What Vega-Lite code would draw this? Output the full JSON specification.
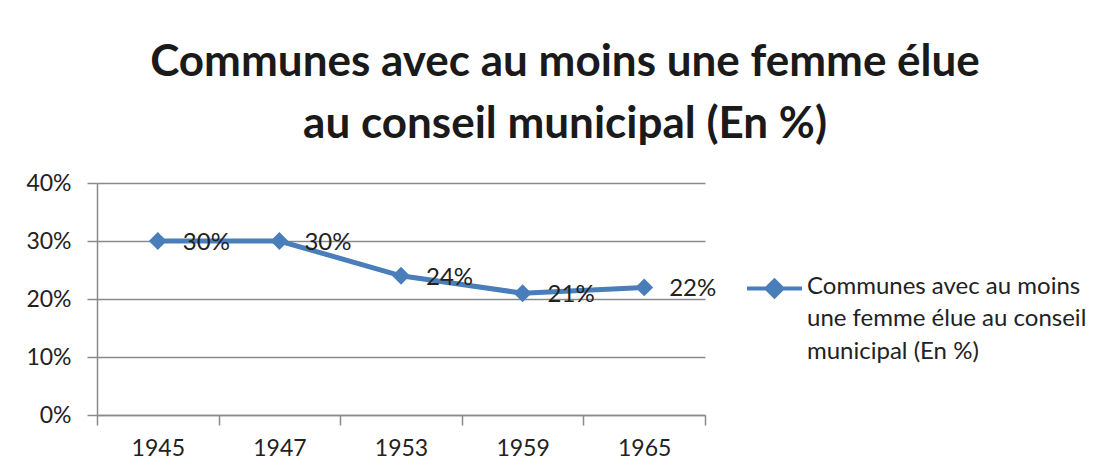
{
  "$schema": "https://vega.github.io/schema/vega-lite/v6.json",
  "width": 608,
  "height": 232,
  "autosize": {"type": "none"},
  "padding": {"left": 97, "top": 183, "right": 400, "bottom": 60},
  "background": "white",
  "config": {"font": "Lato", "view": {"stroke": null}, "text": {"font": "Lato"}},
  "title": {
    "text": ["Communes avec au moins une femme élue", "au conseil municipal (En %)"],
    "fontSize": 44,
    "fontWeight": "bold",
    "color": "#1a1a1a",
    "lineHeight": 62,
    "anchor": "middle",
    "dx": 164,
    "offset": 25,
    "font": "Lato"
  },
  "data": {
    "values": [
      {"year": "1945", "value": 0.30, "series": "Communes avec au moins une femme élue au conseil municipal (En %)"},
      {"year": "1947", "value": 0.30, "series": "Communes avec au moins une femme élue au conseil municipal (En %)"},
      {"year": "1953", "value": 0.24, "series": "Communes avec au moins une femme élue au conseil municipal (En %)"},
      {"year": "1959", "value": 0.21, "series": "Communes avec au moins une femme élue au conseil municipal (En %)"},
      {"year": "1965", "value": 0.22, "series": "Communes avec au moins une femme élue au conseil municipal (En %)"}
    ]
  },
  "encoding": {
    "x": {
      "field": "year",
      "type": "ordinal",
      "scale": {"paddingInner": 0, "paddingOuter": 0},
      "axis": {
        "title": null,
        "labelAngle": 0,
        "labelFontSize": 23,
        "labelColor": "#222",
        "labelPadding": 12,
        "tickBand": "extent",
        "tickSize": 10,
        "tickColor": "#8a8a8a",
        "tickWidth": 1.5,
        "domainColor": "#8a8a8a",
        "domainWidth": 1.5,
        "grid": false
      }
    },
    "y": {
      "field": "value",
      "type": "quantitative",
      "scale": {"domain": [0, 0.4], "nice": false},
      "axis": {
        "title": null,
        "format": ".0%",
        "values": [0, 0.1, 0.2, 0.3, 0.4],
        "labelFontSize": 23,
        "labelColor": "#222",
        "labelPadding": 16,
        "tickSize": 10,
        "tickColor": "#8a8a8a",
        "tickWidth": 1.5,
        "domainColor": "#8a8a8a",
        "domainWidth": 1.5,
        "grid": true,
        "gridColor": "#8a8a8a",
        "gridWidth": 1.5
      }
    }
  },
  "layer": [
    {
      "mark": {"type": "line", "strokeWidth": 5, "color": "#4A7EBB"},
      "encoding": {
        "color": {
          "field": "series",
          "type": "nominal",
          "scale": {"range": ["#4A7EBB"]},
          "legend": {
            "title": null,
            "orient": "none",
            "legendX": 648,
            "legendY": 76,
            "symbolType": "M-1,0H1M-0.29,0L0,-0.29L0.29,0L0,0.29Z",
            "symbolSize": 3025,
            "symbolStrokeWidth": 4,
            "symbolStrokeColor": "#4A7EBB",
            "symbolFillColor": "#4A7EBB",
            "labelFontSize": 24,
            "labelColor": "#222",
            "labelLimit": 400,
            "labelOffset": 3,
            "labelBaseline": "top",
            "labelExpr": "['Communes avec au moins', 'une femme élue au conseil', 'municipal (En %)']",
            "encode": {"labels": {"update": {"lineHeight": {"value": 32.5}, "dy": {"value": -14}}}}
          }
        }
      }
    },
    {
      "mark": {"type": "point", "shape": "diamond", "size": 320, "filled": true, "color": "#4A7EBB", "opacity": 1}
    },
    {
      "mark": {"type": "text", "align": "left", "baseline": "middle", "dx": 25, "dy": 2, "fontSize": 24, "color": "#222"},
      "encoding": {"text": {"field": "value", "type": "quantitative", "format": ".0%"}}
    }
  ]
}
